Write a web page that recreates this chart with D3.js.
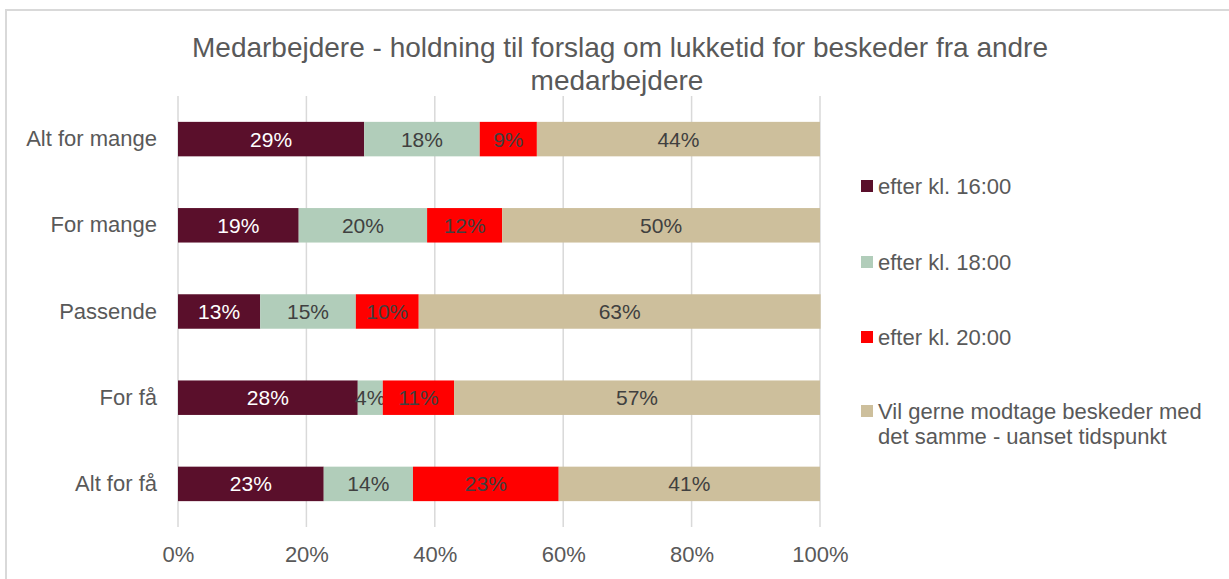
<!DOCTYPE html>
<html>
<head>
<meta charset="utf-8">
<script src="https://cdn.jsdelivr.net/npm/d3@7"></script>
<style>
    body { margin: 0; background: #fff; }
    svg text { font-family: "Liberation Sans", Arial, sans-serif; }
</style>
</head>
<body>
<svg id="chart" width="1229" height="579"></svg>
<script>
// categories, top to bottom
let categories = ["Alt for mange", "For mange", "Passende", "For få", "Alt for få"];

let seriesNames = ["efter kl. 16:00", "efter kl. 18:00", "efter kl. 20:00",
    "Vil gerne modtage beskeder med det samme - uanset tidspunkt"];

// share per category
let after16 = [0.290, 0.188, 0.128, 0.280, 0.227];
let after18 = [0.180, 0.200, 0.149, 0.039, 0.139];
let after20 = [0.089, 0.117, 0.098, 0.111, 0.227];
let rightAway = [0.441, 0.495, 0.626, 0.570, 0.407];

let xTicks = [0, 0.2, 0.4, 0.6, 0.8, 1.0];

let seriesColors = ["#5a0f2b", "#b1cdba", "#ff0000", "#cdbf9c"];
let labelColors = ["#ffffff", "#404040", "#404040", "#404040"];

let rows = categories.map((c, i) => ({
    cat: c,
    s0: after16[i], s1: after18[i], s2: after20[i], s3: rightAway[i]
}));

let svg = d3.select("#chart");
let margin = {top: 96, left: 178, right: 409, bottom: 52};
let width = 1229 - margin.left - margin.right;
let height = 579 - margin.top - margin.bottom;

// frame
svg.append("path")
    .attr("d", "M6,579 V10 H1229")
    .attr("fill", "none")
    .attr("stroke", "#d9d9d9")
    .attr("stroke-width", 2);

// title
svg.append("text")
    .attr("x", 620).attr("y", 57)
    .attr("text-anchor", "middle")
    .attr("font-size", 28)
    .attr("fill", "#595959")
    .text("Medarbejdere - holdning til forslag om lukketid for beskeder fra andre");
svg.append("text")
    .attr("x", 617).attr("y", 90)
    .attr("text-anchor", "middle")
    .attr("font-size", 28)
    .attr("fill", "#595959")
    .text("medarbejdere");

let g = svg.append("g").attr("transform", "translate(" + margin.left + "," + margin.top + ")");

let x = d3.scaleLinear().domain([0, 1]).range([0, width]);
let y = d3.scaleBand().domain(categories).range([0, height])
    .paddingInner(0.6).paddingOuter(0.3);

// gridlines
g.selectAll(".grid")
    .data(xTicks)
    .enter().append("line")
    .attr("class", "grid")
    .attr("x1", d => x(d)).attr("x2", d => x(d))
    .attr("y1", 0).attr("y2", height)
    .attr("stroke", "#d9d9d9")
    .attr("stroke-width", 1.5);

let stack = d3.stack().keys(["s0", "s1", "s2", "s3"]);
let layers = stack(rows);

let layerG = g.selectAll(".layer")
    .data(layers)
    .enter().append("g")
    .attr("class", "layer")
    .attr("fill", (d, i) => seriesColors[i]);

layerG.selectAll("rect")
    .data(d => d)
    .enter().append("rect")
    .attr("x", d => x(d[0]))
    .attr("y", d => y(d.data.cat))
    .attr("width", d => x(d[1]) - x(d[0]))
    .attr("height", y.bandwidth());

// data labels
layerG.each(function (layer, i) {
    d3.select(this).selectAll("text")
        .data(layer)
        .enter().append("text")
        .attr("x", d => (x(d[0]) + x(d[1])) / 2)
        .attr("y", d => y(d.data.cat) + y.bandwidth() / 2)
        .attr("dy", "0.36em")
        .attr("text-anchor", "middle")
        .attr("font-size", 21)
        .attr("fill", labelColors[i])
        .text(d => Math.round((d[1] - d[0]) * 100) + "%");
});

// x axis labels
let xAxis = d3.axisBottom(x).tickValues(xTicks).tickFormat(d3.format(".0%")).tickSize(0).tickPadding(19);
let xAxisG = g.append("g")
    .attr("transform", "translate(0," + height + ")")
    .call(xAxis);
xAxisG.select(".domain").remove();
xAxisG.selectAll("text")
    .attr("font-size", 22)
    .attr("fill", "#595959");

// y axis labels
let yAxis = d3.axisLeft(y).tickSize(0).tickPadding(21);
let yAxisG = g.append("g").call(yAxis);
yAxisG.select(".domain").remove();
yAxisG.selectAll("text")
    .attr("font-size", 22)
    .attr("fill", "#595959");

// legend
let legendY = [186, 262, 337, 411];
let legend = svg.append("g");
seriesNames.forEach((name, i) => {
    legend.append("rect")
        .attr("x", 861).attr("y", legendY[i] - 6)
        .attr("width", 12).attr("height", 12)
        .attr("fill", seriesColors[i]);
    let t = legend.append("text")
        .attr("x", 878).attr("y", legendY[i])
        .attr("dy", "0.36em")
        .attr("font-size", 22)
        .attr("fill", "#595959");
    if (i === 3) {
        t.append("tspan").attr("x", 878).text("Vil gerne modtage beskeder med");
        t.append("tspan").attr("x", 878).attr("dy", "1.15em").text("det samme - uanset tidspunkt");
    } else {
        t.text(name);
    }
});
</script>
</body>
</html>
